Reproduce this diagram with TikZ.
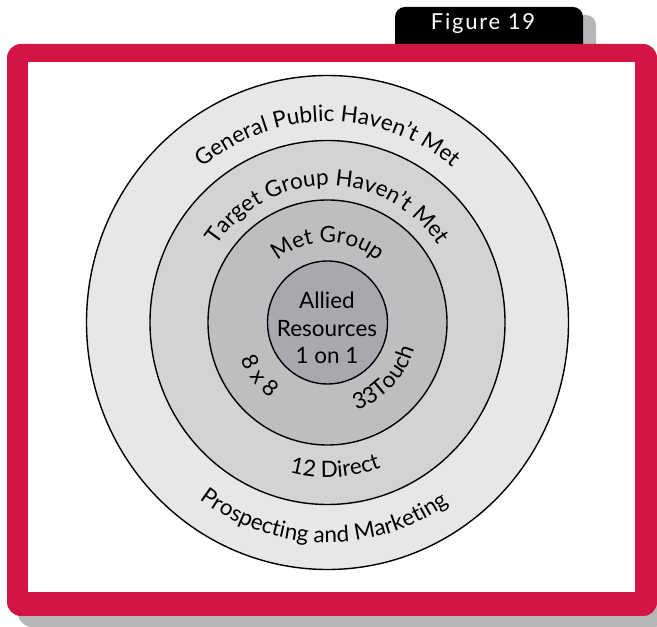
\documentclass[tikz,border=0pt]{standalone}
\usepackage{fontspec}
\setmainfont{Lato}
\newfontfamily\tabfont[LetterSpace=8]{Lato}
\usetikzlibrary{decorations.text}
\definecolor{framered}{RGB}{212,20,69}
\definecolor{shadowgray}{RGB}{183,183,183}
\definecolor{ringA}{RGB}{230,231,232}
\definecolor{ringB}{RGB}{209,211,212}
\definecolor{ringC}{RGB}{188,190,192}
\definecolor{ringD}{RGB}{167,169,172}
\newcommand\ringfont{\fontsize{22.5bp}{27.7bp}\selectfont}
\begin{document}
\begin{tikzpicture}[x=1bp,y=1bp,
  ring/.style={draw=black, line width=1.4bp},
  arctext/.style={decorate, decoration={text along path, text align=center, text={|\ringfont|#1}}}]
\useasboundingbox (0,0) rectangle (657,627);
% tab
\fill[shadowgray, rounded corners=10bp] (408,560) -- (408,612) -- (596,612) -- (596,560) -- cycle;
\fill[black, rounded corners=10bp] (395,570) -- (395,620) -- (583,620) -- (583,570) -- cycle;
\node[text=white, font=\tabfont\fontsize{22bp}{22bp}\selectfont, anchor=base, inner sep=0] (fig) at (483,597.7) {Figure 19};
% frame
\fill[shadowgray, rounded corners=14bp] (18,0) rectangle (668,572);
\fill[framered, rounded corners=14bp] (7,11) rectangle (657,583);
\fill[white] (28,35) rectangle (635,565.3);
% rings
\coordinate (c) at (327.5,304.5);
\draw[ring, fill=ringA] (c) ellipse[x radius=241, y radius=247];
\draw[ring, fill=ringB] (c) ellipse[x radius=177.5, y radius=182];
\draw[ring, fill=ringC] (c) ellipse[x radius=119.5, y radius=122.5];
\draw[ring, fill=ringD] (c) ellipse[x radius=60, y radius=61.5];
% texts along the rings
\path[arctext={General Public Haven’t Met}] ([shift={(180:196 and 201)}]c) arc[start angle=180, end angle=0, x radius=196, y radius=201];
\path[arctext={Target Group Haven’t Met}] ([shift={(180:133.7 and 137)}]c) arc[start angle=180, end angle=0, x radius=133.7, y radius=137];
\path[arctext={Met Group}] ([shift={(180:78 and 80)}]c) arc[start angle=180, end angle=0, x radius=78, y radius=80];
\path[arctext={Prospecting and Marketing}] ([shift={(179:214.6 and 220)}]c) arc[start angle=179, end angle=359, x radius=214.6, y radius=220];
\path[arctext={12 Direct}] ([shift={(183:151.2 and 155)}]c) arc[start angle=183, end angle=363, x radius=151.2, y radius=155];
\path[arctext={8 x 8}] ([shift={(128:93.7 and 96)}]c) arc[start angle=128, end angle=308, x radius=93.7, y radius=96];
\path[arctext={33Touch}] ([shift={(225.5:90.7 and 93)}]c) arc[start angle=225.5, end angle=405.5, x radius=90.7, y radius=93];
% centre
\node[align=center, font=\ringfont, inner sep=0] (allied) at (327,299) {Allied\\Resources\\1 on 1};
\end{tikzpicture}
\end{document}
